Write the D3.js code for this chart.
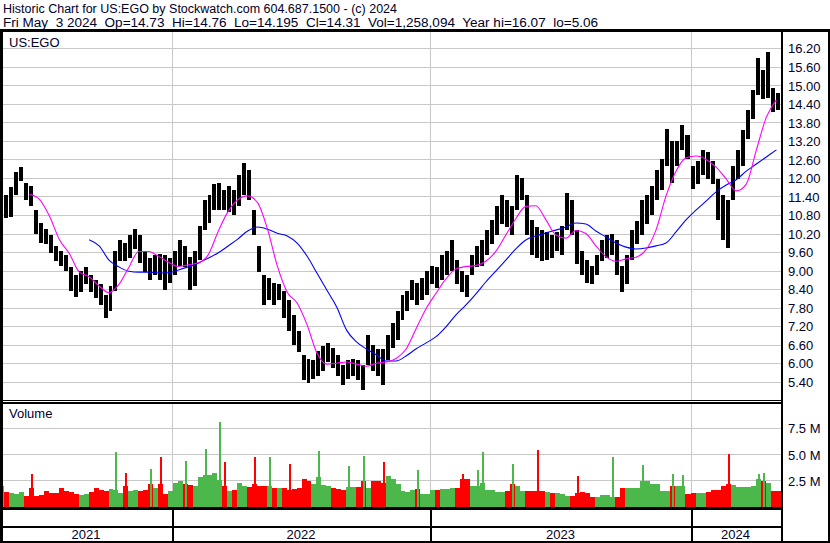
<!DOCTYPE html>
<html><head><meta charset="utf-8">
<script src="https://cdn.jsdelivr.net/npm/d3@7"></script>
<style>
body{margin:0;background:#fff;}
svg text{font-family:"Liberation Sans",Arial,sans-serif;}
</style></head><body>
<svg id="c" width="830" height="543"></svg>
<script>
// ---------- DATA ----------
const title1 = "Historic Chart for US:EGO by Stockwatch.com 604.687.1500 - (c) 2024";
const title2 = "Fri May  3 2024  Op=14.73  Hi=14.76  Lo=14.195  Cl=14.31  Vol=1,258,094  Year hi=16.07  lo=5.06";
const symbol = "US:EGO";
const firstWeek = "2021-05-03";   // weekly bars, Mondays
const lastDay = "2024-05-04";
const yearStarts = ["2022-01-01","2023-01-01","2024-01-01"];
const yearLabels = ["2021","2022","2023","2024"];
const priceTicks = [5.4,6.0,6.6,7.2,7.8,8.4,9.0,9.6,10.2,10.8,11.4,12.0,12.6,13.2,13.8,14.4,15.0,15.6,16.2];
const volumeTicks = [2.5,5.0,7.5];

// weekly high / low (USD)
const weekHigh = [11.4,11.45,11.7,12.2,12.37,11.85,11.75,10.95,10.55,10.35,
 10.15,9.8,9.65,9.5,9.1,8.85,9.0,9.1,8.85,8.7,
 8.55,8.2,8.5,9.65,10.0,9.9,10.15,10.35,10.15,9.6,
 9.4,9.5,9.55,9.5,9.4,9.65,10.0,9.8,9.45,9.65,
 10.45,11.3,11.45,11.8,11.85,11.6,11.75,11.6,12.1,12.48,
 12.25,10.95,9.8,8.85,8.75,8.6,8.55,8.35,8.05,7.55,
 7.05,6.25,6.15,6.1,6.4,6.55,6.65,6.5,6.25,5.95,
 6.1,6.15,6.1,5.95,6.9,6.6,6.45,6.45,6.9,7.3,
 7.7,8.2,8.35,8.7,8.6,8.75,9.0,9.15,9.1,9.5,
 9.65,10.0,9.35,9.0,8.85,9.5,9.8,10.0,10.3,10.65,
 11.1,11.45,11.3,11.1,12.1,12.0,11.45,10.65,10.4,10.3,
 10.25,10.15,10.25,10.45,11.5,11.3,10.3,9.65,9.35,9.15,
 9.5,10.0,10.15,10.2,10.0,9.15,9.5,10.3,10.6,11.3,
 11.45,11.75,12.25,12.6,13.58,13.2,13.2,13.7,13.4,12.4,
 12.55,12.9,12.85,12.55,11.95,11.45,11.3,12.4,12.9,13.55,
 14.2,14.85,15.9,15.5,16.07,14.9,14.76];
const weekLow = [10.8,10.7,10.75,11.45,11.9,11.3,11.1,10.2,9.9,9.85,
 9.56,9.3,9.15,9.0,8.35,8.15,8.3,8.55,8.3,8.1,
 7.9,7.45,7.7,8.35,9.3,9.3,9.4,9.7,9.25,8.95,
 8.7,8.85,8.7,8.37,8.6,8.85,9.15,9.1,8.37,8.5,
 9.35,10.3,10.55,10.95,10.95,10.95,10.9,10.8,11.1,11.45,
 11.3,10.15,8.95,7.9,8.05,7.9,8.05,7.45,7.05,6.6,
 6.35,5.45,5.36,5.5,5.6,5.75,6.05,5.85,5.6,5.3,
 5.5,5.6,5.45,5.13,5.95,5.75,5.6,5.3,6.1,6.5,
 6.75,7.4,7.7,8.05,7.9,8.05,8.2,8.55,8.45,8.7,
 8.85,9.0,8.55,8.3,8.15,8.85,9.1,9.15,9.5,9.85,
 10.15,10.5,10.4,10.15,10.95,11.3,10.15,9.5,9.4,9.3,
 9.35,9.4,9.65,9.5,10.3,10.15,9.2,8.85,8.6,8.55,
 8.85,9.3,9.4,9.5,8.85,8.3,8.55,9.35,9.85,10.15,
 10.5,10.8,11.3,11.6,12.4,11.85,12.4,12.9,12.6,11.65,
 11.8,12.1,11.95,11.8,10.65,10.0,9.73,11.3,11.95,12.4,
 13.25,13.9,14.7,14.55,14.6,14.15,14.2];

// moving averages, one value every two weeks
const maShort = [null,null,null,11.47,11.3,10.76,10.0,9.55,8.95,8.8,
 8.5,8.28,8.55,9.1,9.62,9.62,9.46,9.27,9.13,9.19,
 9.25,9.5,10.25,10.9,11.29,11.42,11.2,10.35,9.15,8.3,
 7.95,7.25,6.33,5.97,6.0,6.04,5.97,5.9,6.0,6.04,
 6.15,6.45,7.1,7.75,8.25,8.72,9.05,9.13,9.16,9.3,
 9.62,10.15,10.68,11.08,11.1,10.65,10.15,10.05,10.3,10.2,
 9.8,9.45,9.3,9.38,9.43,9.67,10.31,11.41,12.22,12.65,
 12.71,12.6,12.35,11.97,11.58,11.8,12.9,13.97,14.53];
const maLong = [null,null,null,null,null,null,null,null,null,10.0,
 9.8,9.34,9.12,8.98,8.95,8.95,8.92,8.93,9.02,9.12,
 9.24,9.4,9.57,9.79,10.02,10.28,10.41,10.34,10.21,10.12,
 9.89,9.47,8.92,8.37,7.82,7.07,6.69,6.46,6.27,6.07,
 6.07,6.23,6.46,6.65,6.85,7.17,7.56,7.88,8.24,8.63,
 8.98,9.34,9.7,9.99,10.12,10.22,10.31,10.41,10.54,10.51,
 10.28,10.09,9.89,9.76,9.7,9.73,9.8,9.89,10.25,10.64,
 10.96,11.25,11.55,11.77,11.94,12.22,12.45,12.68,12.91];

// weekly typical daily volume (millions)
const volume = [2.0,1.4,1.3,1.2,1.4,1.0,1.8,1.0,1.1,1.5,
 1.3,1.3,1.8,1.5,1.4,1.2,1.1,1.2,1.4,1.8,
 1.6,1.5,1.7,1.6,1.3,2.0,1.5,1.6,1.5,1.6,
 2.2,1.8,2.2,1.2,1.5,2.3,2.4,2.2,2.1,2.0,
 2.8,3.0,3.0,3.2,2.5,2.0,1.5,1.6,2.3,2.0,
 1.9,2.2,2.0,2.0,2.0,1.8,1.8,1.8,1.6,1.7,
 1.8,2.6,2.4,2.2,2.8,2.1,2.0,1.8,1.7,1.6,
 1.9,1.9,1.9,2.4,1.8,2.4,2.4,2.3,2.9,2.6,
 2.2,1.5,1.4,1.6,1.7,1.2,1.2,1.6,1.6,1.7,
 1.7,1.8,1.8,2.6,2.6,2.0,2.0,2.3,1.6,1.6,
 1.4,1.4,1.5,2.2,2.0,1.5,1.5,1.5,1.5,1.5,
 1.4,1.3,1.3,1.2,1.0,1.0,1.3,1.4,1.3,0.9,
 0.9,1.1,1.1,0.9,0.9,1.8,1.8,1.8,1.8,2.4,
 2.4,2.2,2.2,1.5,1.5,2.0,2.0,2.0,1.2,1.3,
 1.3,1.3,1.4,1.6,1.6,2.0,2.2,2.1,1.9,1.9,
 1.9,2.0,2.6,2.4,2.3,1.5,1.5];
// single-day volume spikes: [week index, millions, direction +1 up / -1 down]
const volumeSpikes = [[6,3.1,-1],[23,5.2,1],[25,3.2,-1],[30,3.6,1],[32,4.7,-1],[37,4.4,1],
 [41,5.5,1],[44,8.1,1],[45,4.3,-1],[51,4.7,-1],[54,4.7,1],[58,4.1,-1],[64,5.3,1],[70,3.9,1],
 [73,4.8,1],[77,4.3,-1],[84,3.5,1],[93,3.1,-1],[96,3.5,1],[97,5.2,1],[103,4.1,1],[108,5.4,-1],
 [116,2.9,-1],[123,4.7,1],[129,4.0,1],[135,3.1,1],[137,3.0,1],[146,5.0,-1],[152,3.1,1],[153,3.2,1]];

// ---------- LAYOUT ----------
const W = 830, H = 543;
const PL = 3, PR = 781;
const priceTop = 32, priceBot = 400;
const volTop = 404, volBot = 507;
const TXT = "#00002a", GRID = "#c8c8c8", UP = "#4cb84c", DOWN = "#ff0000";

const parse = d3.timeParse("%Y-%m-%d");
const t0 = parse(firstWeek);
const x = d3.scaleTime()
  .domain([t0, ...yearStarts.map(parse), parse(lastDay)])
  .range([0, 172, 430, 691, 780]);
const y = d3.scaleLinear().domain([5.4, 16.2]).range([381.7, 48.3]);
const yv = d3.scaleLinear().domain([0, 7.5]).range([506.5, 428.3]);

const weeks = weekHigh.map((h, i) => ({
  date: d3.timeDay.offset(t0, 7 * i),
  next: d3.timeDay.offset(t0, 7 * i + 7),
  hi: h, lo: weekLow[i], vol: volume[i]
}));
weeks.forEach((d, i) => {
  const prev = i ? weeks[i - 1] : d;
  d.up = (d.hi + d.lo) >= (prev.hi + prev.lo);
  d.x0 = Math.floor(x(d.date));
  d.x1 = Math.floor(x(d.next));
});

const svg = d3.select("#c");
svg.append("rect").attr("width", W).attr("height", H).attr("fill", "#fff");

const defs = svg.append("defs");
defs.append("clipPath").attr("id", "cp").append("rect")
  .attr("x", PL).attr("y", priceTop).attr("width", PR - PL).attr("height", priceBot - priceTop);
defs.append("clipPath").attr("id", "cv").append("rect")
  .attr("x", PL).attr("y", volTop).attr("width", PR - PL).attr("height", volBot - volTop);

// header
svg.append("text").attr("x", 3).attr("y", 12.5).attr("font-size", 12.5).attr("fill", TXT)
  .attr("textLength", 394).attr("lengthAdjust", "spacingAndGlyphs")
  .style("white-space", "pre").text(title1);
svg.append("text").attr("x", 3).attr("y", 26.5).attr("font-size", 12.5).attr("fill", TXT)
  .attr("textLength", 595).attr("lengthAdjust", "spacingAndGlyphs")
  .style("white-space", "pre").text(title2);

// grids
const grid = svg.append("g").attr("shape-rendering", "crispEdges");
grid.selectAll(".hp").data(priceTicks).join("line").attr("class", "hp")
  .attr("x1", PL).attr("x2", PR).attr("y1", d => Math.round(y(d)) + 0.5).attr("y2", d => Math.round(y(d)) + 0.5)
  .attr("stroke", GRID);
grid.selectAll(".hv").data(volumeTicks).join("line").attr("class", "hv")
  .attr("x1", PL).attr("x2", PR).attr("y1", d => Math.round(yv(d)) + 0.5).attr("y2", d => Math.round(yv(d)) + 0.5)
  .attr("stroke", GRID);
yearStarts.forEach(s => {
  const xx = Math.round(x(parse(s))) + 0.5;
  grid.append("line").attr("x1", xx).attr("x2", xx).attr("y1", priceTop).attr("y2", priceBot).attr("stroke", GRID);
  grid.append("line").attr("x1", xx).attr("x2", xx).attr("y1", volTop).attr("y2", volBot).attr("stroke", GRID);
});

// price bars (weekly ranges, drawn as narrow bars with a hairline gap)
const pg = svg.append("g").attr("clip-path", "url(#cp)").attr("shape-rendering", "crispEdges");
pg.selectAll("rect").data(weeks).join("rect")
  .attr("x", d => d.x0)
  .attr("width", d => Math.max(1, d.x1 - d.x0 - 1))
  .attr("y", d => y(d.hi))
  .attr("height", d => Math.max(1, y(d.lo) - y(d.hi)))
  .attr("fill", "#000");

// moving averages
const maSeries = arr => arr.map((v, j) => ({ date: d3.timeDay.offset(t0, 14 * j), v }));
const maLine = d3.line().defined(d => d.v != null).x(d => x(d.date)).y(d => y(d.v)).curve(d3.curveMonotoneX);
const mg = svg.append("g").attr("clip-path", "url(#cp)").attr("fill", "none").attr("stroke-width", 1.1);
mg.append("path").attr("d", maLine(maSeries(maLong))).attr("stroke", "#0000ff");
mg.append("path").attr("d", maLine(maSeries(maShort))).attr("stroke", "#ff00ff");

// volume
const vg = svg.append("g").attr("clip-path", "url(#cv)").attr("shape-rendering", "crispEdges");
vg.selectAll("rect.vb").data(weeks).join("rect").attr("class", "vb")
  .attr("x", d => d.x0)
  .attr("width", d => d.x1 - d.x0)
  .attr("y", d => yv(d.vol))
  .attr("height", d => yv(0) - yv(d.vol))
  .attr("fill", d => d.up ? UP : DOWN);
vg.selectAll("rect.sp").data(volumeSpikes).join("rect").attr("class", "sp")
  .attr("x", d => weeks[d[0]].x0 + 2)
  .attr("width", 2)
  .attr("y", d => yv(d[1]))
  .attr("height", d => yv(0) - yv(d[1]))
  .attr("fill", d => d[2] > 0 ? UP : DOWN);

// axes
const ax = svg.append("g").attr("transform", "translate(788,0)")
  .call(d3.axisRight(y).tickValues(priceTicks).tickFormat(d3.format(".2f")).tickSize(0).tickPadding(0));
const axv = svg.append("g").attr("transform", "translate(788,0)")
  .call(d3.axisRight(yv).tickValues(volumeTicks).tickFormat(d => d3.format(".1f")(d) + " M").tickSize(0).tickPadding(0));
[ax, axv].forEach(g => {
  g.select(".domain").remove();
  g.selectAll("text").attr("font-size", 13).attr("font-family", "Liberation Sans, Arial, sans-serif")
    .attr("fill", TXT).attr("dy", "0.36em");
});

// labels
svg.append("text").attr("x", 9).attr("y", 46.5).attr("font-size", 13).attr("fill", TXT).text(symbol);
svg.append("text").attr("x", 9).attr("y", 418).attr("font-size", 13).attr("fill", TXT).text("Volume");

// frame
const fr = svg.append("g").attr("fill", "#000").attr("shape-rendering", "crispEdges");
const R = (a, b, c, d) => fr.append("rect").attr("x", a).attr("y", b).attr("width", c).attr("height", d);
R(0, 29, W, 3);
R(0, 29, 3, H - 29);
R(781, 29, 2, H - 29);
R(828, 29, 2, H - 29);
R(0, 400, 783, 1);
R(0, 402, 783, 2);
R(0, 507, 783, 3);
R(0, 526, 783, 2);
R(0, 541, W, 2);
yearStarts.forEach(s => R(Math.round(x(parse(s))) - 0.5, 509, 2, 33));

// year labels
const bounds = [x.domain()[0], ...yearStarts.map(parse), x.domain()[x.domain().length - 1]];
svg.selectAll("text.yr").data(yearLabels).join("text").attr("class", "yr")
  .attr("x", (d, i) => (x(bounds[i]) + Math.min(PR, x(bounds[i + 1]))) / 2)
  .attr("y", 539).attr("text-anchor", "middle").attr("font-size", 13).attr("fill", TXT).text(d => d);
</script>
</body></html>
